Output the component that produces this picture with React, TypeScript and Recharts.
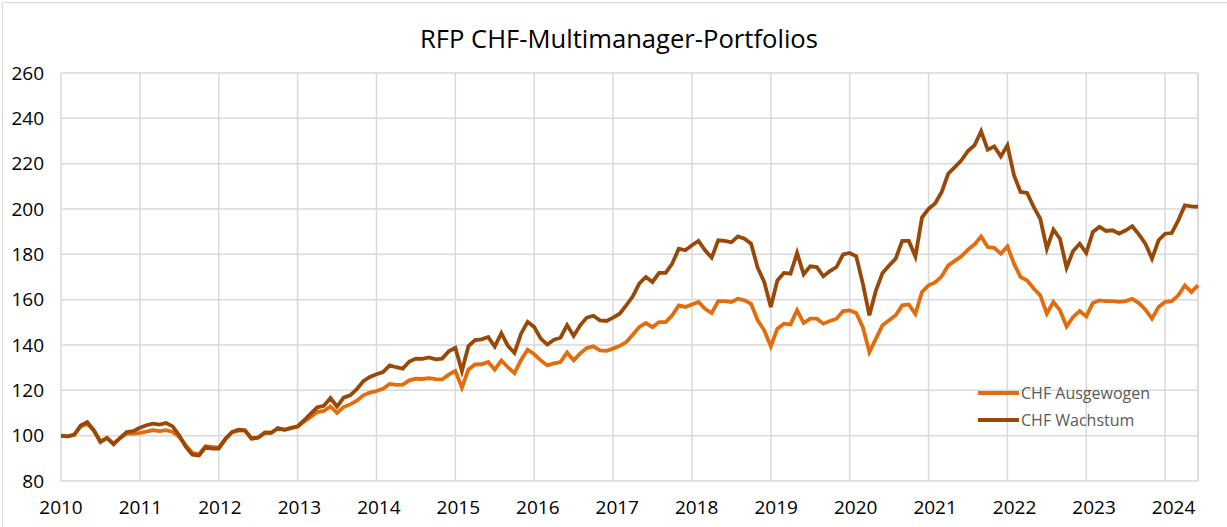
import { LineChart, Line, XAxis, YAxis, CartesianGrid, Legend, ReferenceLine } from 'recharts';

const FONT = '"Open Sans", "Noto Sans", sans-serif';
const ORANGE = '#E46C0A';
const BROWN = '#984807';
const GRID = '#d9d9d9';

const YEARS = [2010, 2011, 2012, 2013, 2014, 2015, 2016, 2017, 2018, 2019, 2020, 2021, 2022, 2023, 2024];
const Y_TICKS = [80, 100, 120, 140, 160, 180, 200, 220, 240, 260];

// monthly index values, one row per year
const AUSGEWOGEN = [
  100, 99.7, 100.4, 104, 105.3, 102.2, 97.5, 99, 96.5, 99, 100.9, 100.9,
  101.2, 101.8, 102.4, 102, 102.4, 101.6, 99.4, 95.7, 92.4, 91.8, 95.3, 95,
  94.7, 98.6, 101.4, 102.2, 102.2, 98.8, 99.3, 101.4, 101.4, 103.2, 102.6, 103.3,
  103.9, 106.2, 108.2, 110.4, 110.9, 112.9, 110, 112.6, 113.8, 115.4, 117.8, 119,
  119.7, 120.7, 122.8, 122.4, 122.5, 124.4, 125.1, 125, 125.4, 124.9, 124.8, 126.9,
  128.5, 121.2, 129.2, 131.4, 131.5, 132.5, 129.1, 133.2, 130.2, 127.6, 133.4, 137.9,
  135.9, 133.2, 131, 131.9, 132.5, 136.7, 133.2, 136.3, 138.7, 139.4, 137.6, 137.4,
  138.4, 139.6, 141.3, 144.5, 148, 149.7, 147.9, 150.1, 150.1, 153.1, 157.5, 156.8,
  157.9, 159, 156, 154.1, 159.4, 159.4, 159, 160.4, 159.7, 158.2, 150.9, 146.5,
  139.4, 147.2, 149.4, 149.1, 155.3, 149.7, 151.6, 151.6, 149.4, 150.6, 151.6, 155,
  155.3, 154.1, 147.9, 136.9, 142.8, 148.7, 150.9, 153.1, 157.5, 157.9, 153.7, 163.4,
  166.3, 167.6, 170.3, 175.1, 177.1, 179.1, 182.1, 184.4, 187.9, 183.2, 182.9, 180.3,
  183.5, 175.9, 170, 168.5, 164.9, 161.9, 153.8, 159, 155.3, 148.2, 152.4, 155,
  152.6, 158.5, 159.7, 159.4, 159.4, 159, 159.4, 160.4, 158.5, 155.6, 151.6, 156.8,
  159, 159.3, 161.9, 166.3, 163.4, 166.3,
];

const WACHSTUM = [
  100, 99.7, 100.4, 104.5, 106, 102.4, 97.2, 99, 96.2, 99, 101.6, 102,
  103.5, 104.6, 105.3, 104.9, 105.6, 104.1, 100.1, 95, 91.6, 91.3, 95, 94.3,
  94.3, 98.4, 101.6, 102.6, 102.4, 98.7, 99.1, 101.2, 101.2, 103.4, 102.6, 103.4,
  104.1, 106.8, 109.7, 112.5, 113.2, 116.6, 112.8, 116.8, 117.8, 120.5, 124, 125.9,
  127.1, 128.1, 131, 130.2, 129.6, 132.7, 134, 133.9, 134.5, 133.7, 134, 137.2,
  138.8, 128.5, 139.5, 142.2, 142.5, 143.5, 139.3, 145.2, 139.6, 136.5, 145, 150.2,
  147.9, 142.8, 140.2, 142.3, 143.2, 148.8, 144, 148.7, 152.1, 152.9, 150.9, 150.6,
  152.1, 153.8, 157.5, 161.5, 167.2, 170, 167.8, 171.8, 171.8, 175.9, 182.5, 181.8,
  184, 185.9, 181.8, 178.5, 186.2, 185.9, 185.3, 187.9, 186.9, 184.7, 174.1, 167.8,
  156.8, 168.5, 171.8, 171.5, 180.6, 171.2, 174.7, 174.4, 170.3, 172.6, 174.4, 180,
  180.6, 179.1, 167.1, 153.1, 164.1, 171.8, 175.1, 178.1, 185.9, 185.9, 179, 196.2,
  200.1, 202.4, 207.5, 215.6, 218.5, 221.5, 225.6, 228.1, 234.3, 226.2, 227.6, 223.2,
  228.1, 214.9, 207.5, 207.1, 200.9, 195.7, 182.5, 190.9, 186.9, 174.1, 181.5, 184.7,
  180.6, 189.9, 192.1, 190.3, 190.6, 189.1, 190.6, 192.4, 188.8, 184.7, 178.1, 186.2,
  189.1, 189.4, 195, 201.6, 201.2, 201,
];

const data = AUSGEWOGEN.map((v, i) => ({
  i,
  month: `${YEARS[Math.floor(i / 12)]}-${String((i % 12) + 1).padStart(2, '0')}`,
  ausgewogen: v,
  wachstum: WACHSTUM[i],
}));
const lastIndex = data.length - 1;
const xTicks = YEARS.map((_, k) => k * 12);

// year labels drift slightly right of their gridlines in the original
function YearTick({ x, y, payload, index }: any) {
  const k = Math.round(payload.value / 12);
  return (
    <text
      x={x + (index ?? k) * 0.6}
      y={y}
      dy="0.71em"
      textAnchor="middle"
      fill="#000"
      fontSize={19}
      fontFamily={FONT}
    >
      {YEARS[k]}
    </text>
  );
}

function LegendBox({ payload }: any) {
  return (
    <div style={{ fontFamily: FONT, fontSize: 16, color: '#595959' }}>
      {(payload || []).map((p: any) => (
        <div key={p.value} style={{ display: 'flex', alignItems: 'center', height: 27 }}>
          <div style={{ width: 41, height: 4, background: p.color, marginRight: 2 }} />
          <span>{p.value}</span>
        </div>
      ))}
    </div>
  );
}

export default function App() {
  return (
    <div
      style={{
        position: 'absolute',
        left: 0,
        top: 0,
        width: 1227,
        height: 527,
        background: '#fff',
        fontFamily: FONT,
        overflow: 'hidden',
      }}
    >
      <div
        style={{
          position: 'absolute',
          left: 2,
          top: 2,
          width: 1240,
          height: 540,
          borderTop: `1px solid ${GRID}`,
          borderLeft: `1px solid ${GRID}`,
        }}
      />
      <div
        style={{
          position: 'absolute',
          left: 0,
          top: 22,
          width: 1238,
          textAlign: 'center',
          fontSize: 25.6,
          color: '#000',
          lineHeight: '34px',
        }}
      >
        RFP CHF-Multimanager-Portfolios
      </div>
      <LineChart
        width={1227}
        height={527}
        data={data}
        margin={{ top: 73, right: 29, bottom: 0, left: 0 }}
        style={{ position: 'absolute', left: 0, top: 0 }}
      >
        <CartesianGrid stroke={GRID} strokeWidth={1.5} />
        <ReferenceLine x={lastIndex} stroke={GRID} strokeWidth={1.5} />
        <XAxis
          type="number"
          dataKey="i"
          domain={[0, lastIndex]}
          ticks={xTicks}
          interval={0}
          axisLine={false}
          tickLine={false}
          tickSize={0}
          tickMargin={20}
          height={46}
          tick={<YearTick />}
        />
        <YAxis
          domain={[80, 260]}
          ticks={Y_TICKS}
          interval={0}
          axisLine={false}
          tickLine={false}
          tickSize={0}
          tickMargin={17}
          width={61}
          tick={{ fill: '#000', fontSize: 19, fontFamily: FONT }}
        />
        <Legend
          layout="vertical"
          align="center"
          verticalAlign="middle"
          content={<LegendBox />}
          wrapperStyle={{ left: 978, top: 379, width: 200 }}
        />
        <Line
          type="linear"
          dataKey="ausgewogen"
          name="CHF Ausgewogen"
          stroke={ORANGE}
          strokeWidth={3.8}
          dot={false}
          activeDot={false}
          isAnimationActive={false}
        />
        <Line
          type="linear"
          dataKey="wachstum"
          name="CHF Wachstum"
          stroke={BROWN}
          strokeWidth={3.8}
          dot={false}
          activeDot={false}
          isAnimationActive={false}
        />
      </LineChart>
    </div>
  );
}
